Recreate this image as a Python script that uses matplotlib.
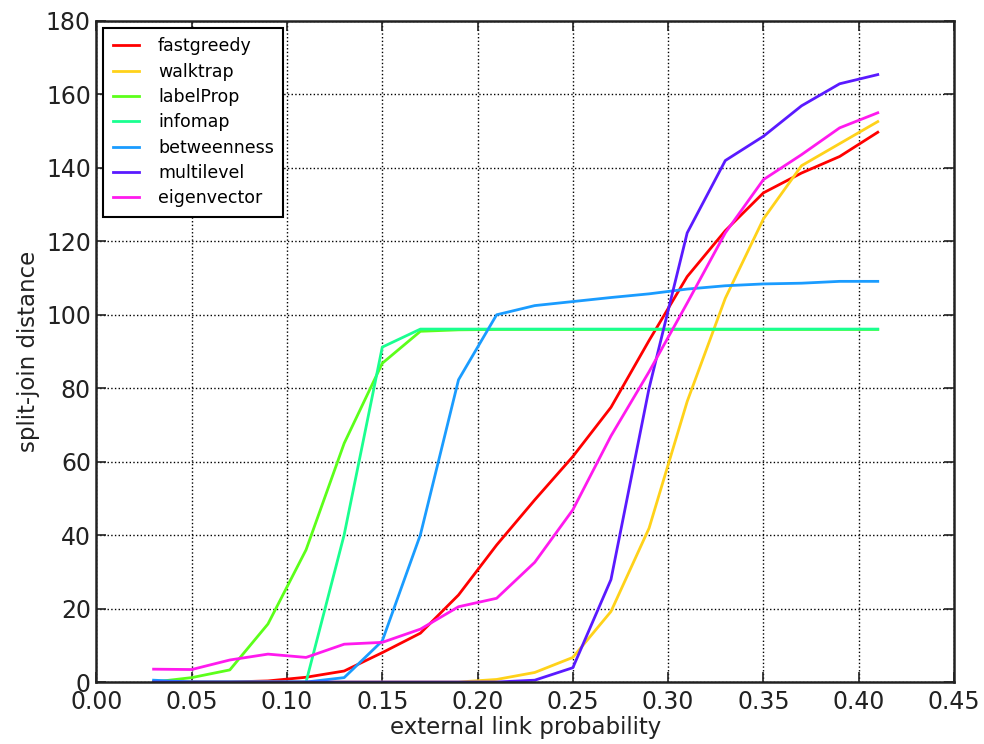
import matplotlib
matplotlib.use('agg')
import matplotlib.pyplot as plt

# external link probability
p = [0.03, 0.05, 0.07, 0.09, 0.11, 0.13, 0.15, 0.17, 0.19, 0.21,
     0.23, 0.25, 0.27, 0.29, 0.31, 0.33, 0.35, 0.37, 0.39, 0.41]

fastgreedy = [0, 0, 0, 0.3, 1.3, 3.0, 8.0, 13.3, 23.7, 37.3,
              49.6, 61.4, 74.8, 93.0, 110.4, 122.9, 133.2, 138.6, 143.1, 149.7]
walktrap = [0, 0, 0, 0, 0, 0, 0, 0, 0, 0.7,
            2.6, 6.7, 19.2, 41.9, 76.4, 104.5, 126.1, 140.6, 146.6, 152.6]
labelProp = [0, 1.2, 3.3, 15.8, 36.0, 65.0, 86.8, 95.5, 95.9, 96.0,
             96.0, 96.0, 96.0, 96.0, 96.0, 96.0, 96.0, 96.0, 96.0, 96.0]
infomap = [0, 0, 0, 0, 0, 40.1, 91.2, 96.1, 96.1, 96.1,
           96.1, 96.1, 96.1, 96.1, 96.1, 96.1, 96.1, 96.1, 96.1, 96.1]
betweenness = [0.5, 0, 0, 0, 0, 1.2, 11.2, 40.1, 82.3, 100.0,
               102.5, 103.6, 104.7, 105.7, 107.0, 107.9, 108.4, 108.6, 109.1, 109.1]
multilevel = [0, 0, 0, 0, 0, 0, 0, 0, 0, 0,
              0.5, 3.9, 27.9, 80.0, 122.3, 142.0, 148.6, 156.9, 162.9, 165.4]
eigenvector = [3.5, 3.4, 6.0, 7.6, 6.7, 10.3, 10.8, 14.4, 20.5, 22.8,
               32.6, 46.9, 67.0, 84.5, 103.2, 122.3, 136.8, 143.6, 150.9, 155.0]

series = [('fastgreedy', fastgreedy, '#ff0000'),
          ('walktrap', walktrap, '#ffd21a'),
          ('labelProp', labelProp, '#5cff1a'),
          ('infomap', infomap, '#1aff90'),
          ('betweenness', betweenness, '#1a9cff'),
          ('multilevel', multilevel, '#5a1aff'),
          ('eigenvector', eigenvector, '#ff1aee')]

fig = plt.figure(figsize=(9.84, 7.44), dpi=100)
ax = fig.add_axes([0.098, 0.0833, 0.8715, 0.8885])

for name, vals, col in series:
    ax.plot(p, vals, color=col, lw=2.0, label=name)

ax.set_xlim(0, 0.45)
ax.set_ylim(0, 180)
ax.set_xticks([i * 0.05 for i in range(10)])
ax.set_xticklabels(['%.2f' % (i * 0.05) for i in range(10)])
ax.set_yticks(range(0, 181, 20))

ax.grid(True, color='black', linestyle=':', linewidth=1.0)
ax.tick_params(direction='in', length=7, width=1.2, labelsize=17,
               top=True, right=True, colors='#222222')
ax.tick_params(axis='x', pad=6)
ax.tick_params(axis='y', pad=4)
for s in ax.spines.values():
    s.set_linewidth(1.8)
    s.set_color('#222222')

ax.set_xlabel('external link probability', fontsize=16.5, color='#222222',
              labelpad=1)
ax.set_ylabel('split-join distance', fontsize=16.5, color='#222222',
              labelpad=4)

leg = ax.legend(loc='upper left', fontsize=12.5, fancybox=False, framealpha=1,
                borderaxespad=0.4, handlelength=1.5, handletextpad=1.1,
                labelspacing=0.42, borderpad=0.55)
leg.get_frame().set_edgecolor('black')
leg.get_frame().set_linewidth(1.5)

fig.savefig('out.png', dpi=100)
